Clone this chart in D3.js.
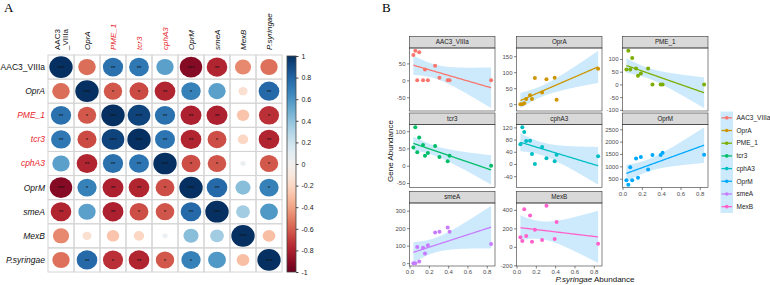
<!DOCTYPE html>
<html>
<head>
<meta charset="utf-8">
<script src="https://cdn.jsdelivr.net/npm/d3@7"></script>
<style>
  body { margin: 0; background: #fff; }
  svg { font-family: "Liberation Sans", Arial, sans-serif; }
</style>
</head>
<body>
<svg id="fig" width="770" height="285"></svg>
<script>
// ---- panel A data: correlation matrix ----
const genes = ["AAC3_VIIIa", "OprA", "PME_1", "tcr3", "cphA3", "OprM", "smeA", "MexB", "P.syringae"];
const redGenes = ["PME_1", "tcr3", "cphA3"];
const corrRows = [
  [ 1.00, -0.56,  0.75,  0.72,  0.55, -0.92, -0.78, -0.48, -0.55],
  [-0.56,  1.00, -0.62, -0.66, -0.78,  0.68,  0.55, -0.15,  0.78],
  [ 0.75, -0.62,  1.00,  0.93,  0.75, -0.80, -0.80, -0.28, -0.74],
  [ 0.72, -0.66,  0.93,  1.00,  0.73, -0.78, -0.65, -0.20, -0.78],
  [ 0.55, -0.78,  0.75,  0.73,  1.00, -0.65, -0.63,  0.05, -0.62],
  [-0.92,  0.68, -0.80, -0.78, -0.65,  1.00,  0.78,  0.42,  0.68],
  [-0.78,  0.55, -0.80, -0.65, -0.63,  0.78,  1.00,  0.35,  0.58],
  [-0.48, -0.15, -0.28, -0.20,  0.05,  0.42,  0.35,  1.00, -0.30],
  [-0.55,  0.78, -0.74, -0.78, -0.62,  0.68,  0.58, -0.30,  1.00]
];
const starRows = [
  ["***", "", "**", "**", "", "***", "**", "", ""],
  ["", "***", "*", "*", "**", "*", "", "", "**"],
  ["**", "*", "***", "***", "**", "**", "**", "", "*"],
  ["**", "*", "***", "***", "**", "**", "*", "", "**"],
  ["", "**", "**", "**", "***", "*", "*", "", "*"],
  ["***", "*", "**", "**", "*", "***", "**", "", "*"],
  ["**", "", "**", "*", "*", "**", "***", "", ""],
  ["", "", "", "", "", "", "", "***", ""],
  ["", "**", "*", "**", "*", "*", "", "", "***"]
];
const barTicks = [1, 0.8, 0.6, 0.4, 0.2, 0, -0.2, -0.4, -0.6, -0.8, -1];

// ---- panel B data: gene abundance vs P.syringae abundance ----
const psyr  = [0.04, 0.06, 0.08, 0.10, 0.14, 0.16, 0.19, 0.265, 0.31, 0.395, 0.415, 0.845];
const aac3  = [75, 87, 0, 83, 0, 32, 0, 43, 8, 0, 0, 0];
const oprA  = [0, 0, 3, 16, 28, 16, 82, 37, 78, 83, 14, 111];
const pme1  = [59, 132, 59, 104, 63, 34, 43, 63, 0, 0, 0, 0];
const tcr3  = [53, 111, 39, 82, 60, 29, 37, 57, 25, 13, 29, 0];
const cphA3 = [65, 120, 105, 75, 76, 33, 0, 56, 19, 9, 30, 25];
const oprM  = [440, 260, 960, 440, 1320, 540, 1375, 875, 1460, 1460, 1555, 1470];
const smeA  = [0, 0, 92, 10, 88, 55, 102, 175, 180, 204, 180, 110];
const mexB  = [104, 63, 407, 118, 340, 55, 185, 74, 444, 85, 270, 33];
const facetGenes  = ["AAC3_VIIIa", "OprA", "PME_1", "tcr3", "cphA3", "OprM", "smeA", "MexB"];
const facetValues = [aac3, oprA, pme1, tcr3, cphA3, oprM, smeA, mexB];
const facetColors = ["#F8766D", "#CD9600", "#7CAE00", "#00BE67", "#00BFC4", "#00A9FF", "#C77CFF", "#FF61CC"];
const facetYTicks = [
  [-50, 0, 50], [0, 50, 100, 150], [-100, -50, 0, 50, 100], [-50, 0, 50, 100],
  [-40, 0, 40, 80, 120], [500, 1000, 1500, 2000, 2500], [0, 100, 200, 300], [-200, 0, 200, 400]
];
const xTicks = [0, 0.2, 0.4, 0.6, 0.8];

const svg = d3.select("#fig");

// ================= Panel A =================
svg.append("text").attr("x", 4).attr("y", 12)
  .style("font-family", "'Liberation Serif', serif").style("font-size", "13px").text("A");

const gx = d3.scaleBand().domain(genes).range([48, 282]);
const gy = d3.scaleBand().domain(genes).range([55, 272]);
const color = r => d3.interpolateRdBu((r + 1) / 2);

const cells = [];
genes.forEach((rg, i) => genes.forEach((cg, j) => {
  cells.push({ row: rg, col: cg, r: corrRows[i][j], s: starRows[i][j] });
}));

const A = svg.append("g");
A.selectAll("rect.cell").data(cells).join("rect")
  .attr("x", d => gx(d.col)).attr("y", d => gy(d.row))
  .attr("width", gx.bandwidth()).attr("height", gy.bandwidth())
  .attr("fill", "none").attr("stroke", "#d4d4d4").attr("stroke-width", 1);

A.selectAll("ellipse").data(cells).join("ellipse")
  .attr("cx", d => gx(d.col) + gx.bandwidth() / 2)
  .attr("cy", d => gy(d.row) + gy.bandwidth() / 2)
  .attr("rx", d => 0.45 * gx.bandwidth() * Math.sqrt(Math.abs(d.r)))
  .attr("ry", d => 0.45 * gy.bandwidth() * Math.sqrt(Math.abs(d.r)))
  .attr("fill", d => color(d.r));

A.selectAll("text.star").data(cells.filter(d => d.s)).join("text")
  .attr("x", d => gx(d.col) + gx.bandwidth() / 2)
  .attr("y", d => gy(d.row) + gy.bandwidth() / 2 + 2.6)
  .attr("text-anchor", "middle").style("font-size", "6px").attr("fill", "#111")
  .text(d => d.s);

// row labels
A.selectAll("text.rowlab").data(genes).join("text")
  .attr("x", 45).attr("y", d => gy(d) + gy.bandwidth() / 2).attr("dy", "0.35em")
  .attr("text-anchor", "end").style("font-size", "8.5px")
  .style("font-style", d => d === "AAC3_VIIIa" ? "normal" : "italic")
  .attr("fill", d => redGenes.includes(d) ? "#e8262a" : "#111")
  .text(d => d);

// column labels (rotated)
const colLab = A.selectAll("g.collab").data(genes).join("g")
  .attr("transform", d => `translate(${gx(d) + gx.bandwidth() / 2},50) rotate(-90)`);
colLab.append("text")
  .style("font-size", "8px")
  .style("font-style", d => d === "AAC3_VIIIa" ? "normal" : "italic")
  .attr("fill", d => redGenes.includes(d) ? "#e8262a" : "#111")
  .each(function (d) {
    const t = d3.select(this);
    if (d === "AAC3_VIIIa") {
      t.append("tspan").attr("x", 0).attr("dy", "-0.15em").text("AAC3");
      t.append("tspan").attr("x", 0).attr("dy", "1.0em").text("_VIIIa");
    } else {
      t.attr("dy", "0.35em").text(d);
    }
  });

// colour bar
const defs = svg.append("defs");
const grad = defs.append("linearGradient").attr("id", "rdbu")
  .attr("x1", 0).attr("y1", 1).attr("x2", 0).attr("y2", 0);
d3.range(0, 1.0001, 0.05).forEach(t => {
  grad.append("stop").attr("offset", t).attr("stop-color", d3.interpolateRdBu(t));
});
const cb = d3.scaleLinear().domain([-1, 1]).range([272, 56]);
svg.append("rect").attr("x", 287).attr("y", cb(1)).attr("width", 9).attr("height", cb(-1) - cb(1))
  .attr("fill", "url(#rdbu)").attr("stroke", "#444").attr("stroke-width", 0.8);
const cbAxis = svg.append("g").attr("transform", "translate(296,0)")
  .call(d3.axisRight(cb).tickValues(barTicks).tickSize(2.5).tickPadding(3)
    .tickFormat(d => String(d)));
cbAxis.select(".domain").remove();
cbAxis.selectAll("line").attr("stroke", "#444");
cbAxis.selectAll("text").style("font-size", "7px").attr("fill", "#222")
  .style("font-family", "'Liberation Sans', Arial, sans-serif");

// ================= Panel B =================
svg.append("text").attr("x", 382).attr("y", 12)
  .style("font-family", "'Liberation Serif', serif").style("font-size", "13px").text("B");

const colX = [409.5, 516.5, 622.5];
const panelW = 85.5;
const stripTop = [36.5, 113, 191.5];
const stripH = 11.5;
const plotH = 63;
const ribbonFill = "rgba(135,206,250,0.42)";
const tcrit = 2.228; // t(0.975, df = 10)

function fitLm(xs, ys) {
  const n = xs.length, mx = d3.mean(xs), my = d3.mean(ys);
  const sxx = d3.sum(xs, x => (x - mx) ** 2);
  const sxy = d3.sum(xs, (x, i) => (x - mx) * (ys[i] - my));
  const b = sxy / sxx, a = my - b * mx;
  const s = Math.sqrt(d3.sum(xs, (x, i) => (ys[i] - a - b * x) ** 2) / (n - 2));
  const [lo, hi] = d3.extent(xs);
  return d3.range(80).map(k => {
    const x = lo + (hi - lo) * k / 79;
    const f = a + b * x;
    const se = s * Math.sqrt(1 / n + (x - mx) ** 2 / sxx);
    return { x, y: f, lo: f - tcrit * se, hi: f + tcrit * se };
  });
}

const xr = d3.extent(psyr), xpad = (xr[1] - xr[0]) * 0.05;

facetGenes.forEach((gname, k) => {
  const col = k % 3, row = Math.floor(k / 3);
  const x0 = colX[col], top = stripTop[row] + stripH;
  const ys = facetValues[k];
  const fit = fitLm(psyr, ys);
  const yAll = ys.concat(fit.map(d => d.lo), fit.map(d => d.hi));
  const ye = d3.extent(yAll), ypad = (ye[1] - ye[0]) * 0.05;

  const x = d3.scaleLinear().domain([xr[0] - xpad, xr[1] + xpad]).range([x0, x0 + panelW]);
  const y = d3.scaleLinear().domain([ye[0] - ypad, ye[1] + ypad]).range([top + plotH, top]);

  const g = svg.append("g");
  const clipId = "clip" + k;
  defs.append("clipPath").attr("id", clipId).append("rect")
    .attr("x", x0).attr("y", top).attr("width", panelW).attr("height", plotH);

  // strip
  g.append("rect").attr("x", x0).attr("y", stripTop[row]).attr("width", panelW).attr("height", stripH)
    .attr("fill", "#d9d9d9").attr("stroke", "#333").attr("stroke-width", 0.6);
  g.append("text").attr("x", x0 + panelW / 2).attr("y", stripTop[row] + stripH / 2).attr("dy", "0.35em")
    .attr("text-anchor", "middle").style("font-size", "6.3px").attr("fill", "#1a1a1a").text(gname);

  const body = g.append("g").attr("clip-path", `url(#${clipId})`);
  body.append("path").datum(fit)
    .attr("d", d3.area().x(d => x(d.x)).y0(d => y(d.lo)).y1(d => y(d.hi)))
    .attr("fill", ribbonFill);
  body.selectAll("circle").data(psyr.map((v, i) => ({ x: v, y: ys[i] }))).join("circle")
    .attr("cx", d => x(d.x)).attr("cy", d => y(d.y)).attr("r", 2)
    .attr("fill", facetColors[k]);
  body.append("path").datum(fit)
    .attr("d", d3.line().x(d => x(d.x)).y(d => y(d.y)))
    .attr("fill", "none").attr("stroke", facetColors[k]).attr("stroke-width", 1.3);

  g.append("rect").attr("x", x0).attr("y", top).attr("width", panelW).attr("height", plotH)
    .attr("fill", "none").attr("stroke", "#333").attr("stroke-width", 0.6);

  const ya = g.append("g").attr("transform", `translate(${x0},0)`)
    .call(d3.axisLeft(y).tickValues(facetYTicks[k]).tickSize(2.5).tickPadding(1.5)
      .tickFormat(d => String(d)));
  ya.select(".domain").remove();
  ya.selectAll("line").attr("stroke", "#333").attr("stroke-width", 0.6);
  ya.selectAll("text").style("font-size", "6px").attr("fill", "#4d4d4d")
    .style("font-family", "'Liberation Sans', Arial, sans-serif");

  const bottomOfColumn = row === 2 || (row === 1 && col === 2);
  if (bottomOfColumn) {
    const xa = g.append("g").attr("transform", `translate(0,${top + plotH})`)
      .call(d3.axisBottom(x).tickValues(xTicks).tickSize(2.5).tickPadding(1.5)
        .tickFormat(d3.format(".1f")));
    xa.select(".domain").remove();
    xa.selectAll("line").attr("stroke", "#333").attr("stroke-width", 0.6);
    xa.selectAll("text").style("font-size", "6px").attr("fill", "#4d4d4d")
      .style("font-family", "'Liberation Sans', Arial, sans-serif");
  }
});

// axis titles
svg.append("text").attr("transform", "translate(393,151) rotate(-90)")
  .attr("text-anchor", "middle").style("font-size", "8px").attr("fill", "#111")
  .text("Gene Abundance");
const xt = svg.append("text").attr("x", 595).attr("y", 282)
  .attr("text-anchor", "middle").style("font-size", "8px").attr("fill", "#111");
xt.append("tspan").style("font-style", "italic").text("P.syringae");
xt.append("tspan").text(" Abundance");

// legend
const leg = svg.append("g");
const legY = d3.scaleBand().domain(facetGenes).range([111.5, 213]);
leg.selectAll("rect").data(facetGenes).join("rect")
  .attr("x", 720.5).attr("y", d => legY(d)).attr("width", 12.5).attr("height", legY.bandwidth())
  .attr("fill", ribbonFill);
leg.selectAll("line").data(facetGenes).join("line")
  .attr("x1", 721.5).attr("x2", 732)
  .attr("y1", d => legY(d) + legY.bandwidth() / 2).attr("y2", d => legY(d) + legY.bandwidth() / 2)
  .attr("stroke", (d, i) => facetColors[i]).attr("stroke-width", 1.3);
leg.selectAll("circle").data(facetGenes).join("circle")
  .attr("cx", 726.75).attr("cy", d => legY(d) + legY.bandwidth() / 2).attr("r", 1.8)
  .attr("fill", (d, i) => facetColors[i]);
leg.selectAll("text").data(facetGenes).join("text")
  .attr("x", 736.5).attr("y", d => legY(d) + legY.bandwidth() / 2).attr("dy", "0.35em")
  .style("font-size", "6.5px").attr("fill", "#1a1a1a").text(d => d);
</script>
</body>
</html>
